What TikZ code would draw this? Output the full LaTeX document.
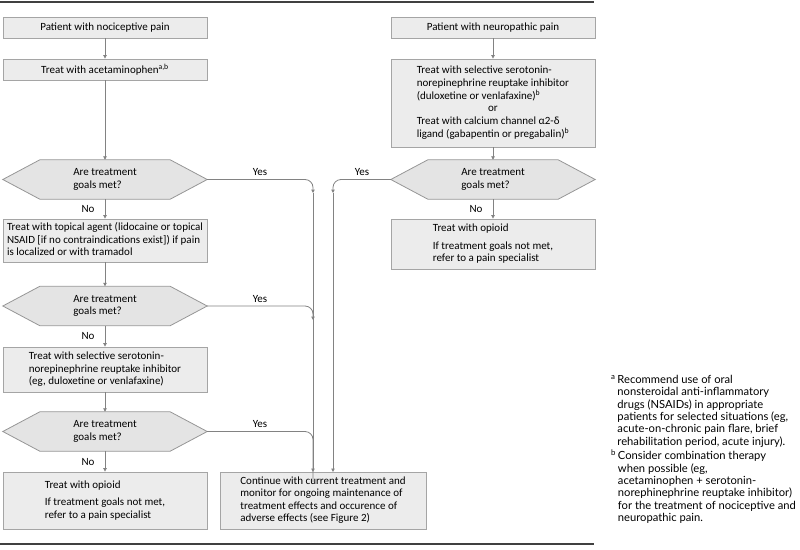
\documentclass[tikz,border=0pt]{standalone}
\usepackage{fontspec}
\setmainfont{Carlito}
\newfontfamily\notefont{Lato}
\usetikzlibrary{arrows.meta,backgrounds}
\definecolor{boxfill}{RGB}{236,236,236}
\definecolor{boxline}{RGB}{165,165,165}
\definecolor{hexfill}{RGB}{228,228,228}
\definecolor{hexline}{RGB}{150,150,150}
\definecolor{arrowc}{RGB}{130,130,130}
\newcommand\lines[1]{\begin{tabular}{@{}l@{}}#1\end{tabular}}
\tikzset{
  box/.style={draw=boxline, fill=boxfill, line width=0.8pt, inner sep=0pt,
    minimum width=204pt, font=\fontsize{11}{12.5}\selectfont},
  hexnode/.style={inner sep=0pt, minimum width=204pt, minimum height=39pt,
    font=\fontsize{11}{12.5}\selectfont},
  hexdraw/.style={draw=hexline, fill=hexfill, line width=0.8pt},
  conn/.style={draw=arrowc, line width=0.8pt, -{Triangle[length=3.5pt,width=3.5pt]}},
  plain/.style={draw=arrowc, line width=0.8pt},
  lab/.style={font=\fontsize{11}{12.5}\selectfont, inner sep=0pt},
  note/.style={anchor=north west, inner sep=0pt,
    font=\notefont\fontsize{11.2}{12.2}\selectfont},
  rule/.style={draw=black!75, line width=1.2pt}
}
\newcommand\hexagon[1]{%
  \path[hexdraw] (#1.west) -- ([xshift=37pt]#1.north west) -- ([xshift=-37pt]#1.north east)
    -- (#1.east) -- ([xshift=-37pt]#1.south east) -- ([xshift=37pt]#1.south west) -- cycle;}
\begin{document}
\begin{tikzpicture}[x=1pt,y=-1pt]
\useasboundingbox (0,0) rectangle (800,549);
% rules
\coordinate (r1a) at (0,2); \coordinate (r1b) at (594,2);
\coordinate (r2a) at (0,544); \coordinate (r2b) at (594,544);
\draw[rule] (r1a) -- (r1b);
\draw[rule] (r2a) -- (r2b);
% left column
\node[box, minimum height=21pt] (a1) at (105,27.5) {Patient with nociceptive pain};
\node[box, minimum height=21pt] (a2) at (105,69.5) {Treat with acetaminophen\textsuperscript{a,b}};
\node[hexnode] (d1) at (105,179.5) {\lines{Are treatment\\goals met?}};
\node[box, minimum height=43pt] (a3) at (105,240.5)
  {\lines{Treat with topical agent (lidocaine or topical\\NSAID [if no contraindications exist]) if pain\\is localized or with tramadol}};
\node[hexnode] (d2) at (105,306) {\lines{Are treatment\\goals met?}};
\node[box, minimum height=45pt] (a4) at (105,369.5)
  {\lines{Treat with selective serotonin-\\norepinephrine reuptake inhibitor\\(eg, duloxetine or venlafaxine)}};
\node[hexnode] (d3) at (105,431.5) {\lines{Are treatment\\goals met?}};
\node[box, minimum height=57pt] (a5) at (105,500.5)
  {\lines{Treat with opioid\\[5pt]If treatment goals not met,\\refer to a pain specialist}};
% centre box
\node[box, minimum height=57pt, minimum width=206pt] (c) at (323,500.5)
  {\lines{Continue with current treatment and\\monitor for ongoing maintenance of\\treatment effects and occurence of\\adverse effects (see Figure 2)}};
% right column
\node[box, minimum height=21pt] (b1) at (493,27.5) {Patient with neuropathic pain};
\node[box, minimum height=88pt] (b2) at (493,103)
  {\lines{Treat with selective serotonin-\\norepinephrine reuptake inhibitor\\(duloxetine or venlafaxine)\textsuperscript{b}\\\multicolumn{1}{@{}c@{}}{or}\\Treat with calcium channel α2-δ\\ligand (gabapentin or pregabalin)\textsuperscript{b}}};
\node[hexnode] (db) at (493,179.5) {\lines{Are treatment\\goals met?}};
\node[box, minimum height=50pt] (b3) at (493,244)
  {\lines{Treat with opioid\\[5pt]If treatment goals not met,\\refer to a pain specialist}};
\begin{scope}[on background layer]
\hexagon{d1}\hexagon{d2}\hexagon{d3}\hexagon{db}
\end{scope}
% vertical connectors
\draw[conn] (a1) -- (a2);
\draw[conn] (a2) -- (d1);
\draw[conn] (d1) -- (a3);
\draw[conn] (a3) -- (d2);
\draw[conn] (d2) -- (a4);
\draw[conn] (a4) -- (d3);
\draw[conn] (d3) -- (a5);
\draw[conn] (b1) -- (b2);
\draw[conn] (b2) -- (db);
\draw[conn] (db) -- (b3);
% No labels
\node[lab] (n1) at (88,209) {No};
\node[lab] (n2) at (88,336) {No};
\node[lab] (n3) at (88,462) {No};
\node[lab] (n4) at (476,209) {No};
% Yes connectors
\coordinate (t1) at (313,193);
\coordinate (t2) at (313,320);
\coordinate (t3) at (313,472);
\coordinate (u1) at (333,193);
\coordinate (u3) at (333,472);
\draw[conn, rounded corners=8pt] (d1.east) -| (t1);
\draw[conn, rounded corners=8pt] (d2.east) -| (t2);
\draw[plain, rounded corners=8pt] (d3.east) -| ([yshift=-10pt]t3);
\draw[conn] (t1) -- (t3);
\draw[conn, rounded corners=8pt] (db.west) -| (u1);
\draw[conn] (u1) -- (u3);
\node[lab] (y1) at (260,172) {Yes};
\node[lab] (y2) at (260,299) {Yes};
\node[lab] (y3) at (260,424) {Yes};
\node[lab] (y4) at (362,172) {Yes};
% footnotes
\node[note] (fa) at (611,375)
{\begin{tabular}{@{}l@{\,}l@{}}\textsuperscript{a}&Recommend use of oral\\
&nonsteroidal anti-inflammatory\\
&drugs (NSAIDs) in appropriate\\
&patients for selected situations (eg,\\
&acute-on-chronic pain flare, brief\\
&rehabilitation period, acute injury).\end{tabular}};
\node[note] (fb) at (611,450)
{\begin{tabular}{@{}l@{\,}l@{}}\textsuperscript{b}&Consider combination therapy\\
&when possible (eg,\\
&acetaminophen + serotonin-\\
&norephinephrine reuptake inhibitor)\\
&for the treatment of nociceptive and\\
&neuropathic pain.\end{tabular}};
\end{tikzpicture}
\end{document}
